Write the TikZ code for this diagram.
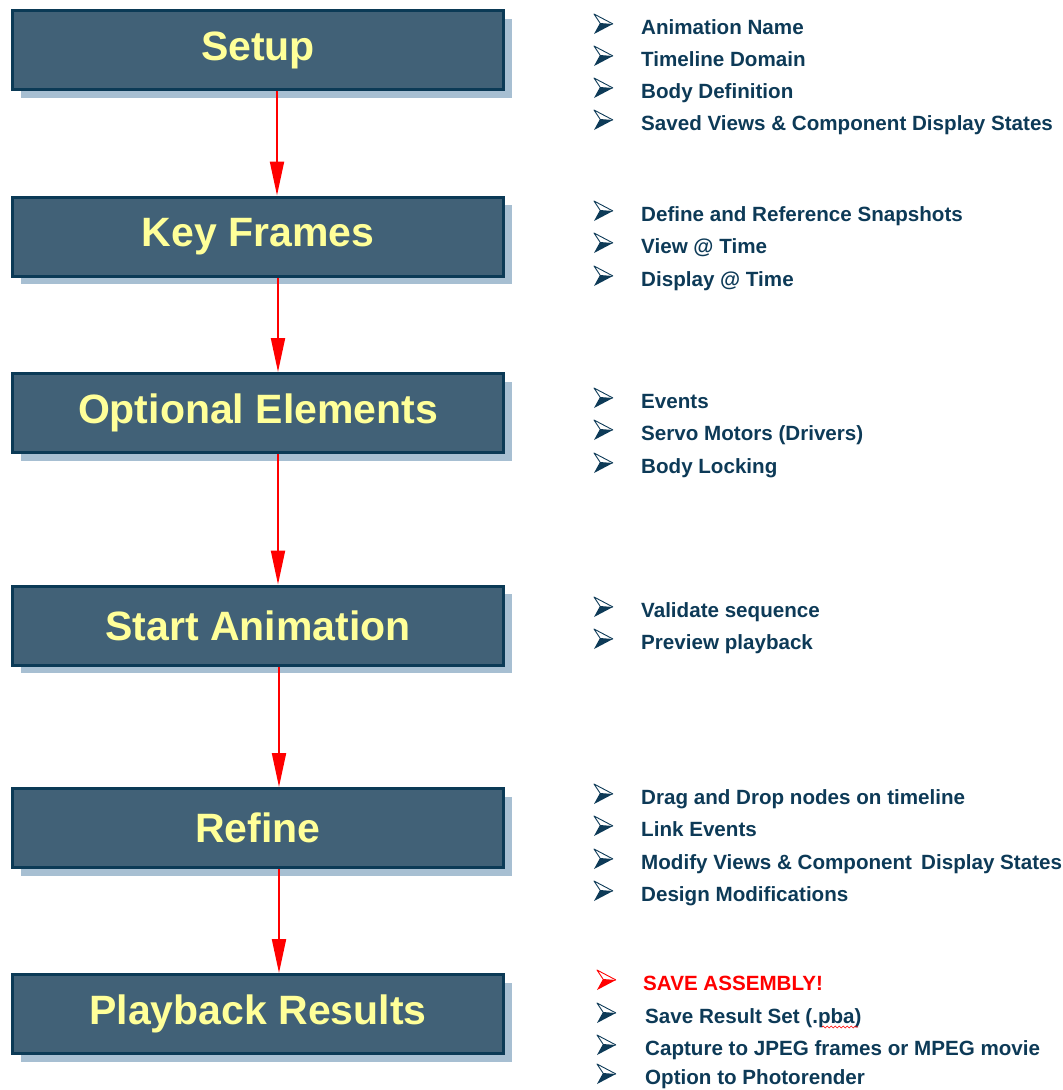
\documentclass[tikz,border=0pt]{standalone}
\usepackage{fontspec}
\setmainfont{Liberation Sans}
\usetikzlibrary{shadows,arrows.meta,decorations.pathmorphing}
\definecolor{boxfill}{HTML}{416177}
\definecolor{boxline}{HTML}{0B3A56}
\definecolor{shadowc}{HTML}{A7BFD2}
\definecolor{labelc}{HTML}{FFFF99}
\definecolor{navy}{HTML}{0D3A57}
\newcommand\pitem[6][navy]{%
  \node[bulletbox] (#2b) at (#3,#5) {};
  \fill[#1] ([xshift=6pt,yshift=1pt]#2b.west) -- (#2b.east) -- (#2b.south west) -- cycle;
  \draw[#1, line width=0.9pt, line join=round] ([xshift=6pt,yshift=1pt]#2b.west) -- (#2b.north west) -- (#2b.east);
  \node[itemtext,text=#1] (#2) at (#4,#5) {#6};}
\begin{document}
\begin{tikzpicture}[x=1pt,y=-1pt,
  stage/.style={draw=boxline, line width=3pt, fill=boxfill,
    minimum width=491pt, minimum height=79pt, inner sep=0pt,
    text=labelc, font=\bfseries\fontsize{41}{48}\selectfont,
    drop shadow={shadow xshift=8pt, shadow yshift=-8pt, fill=shadowc, opacity=1}},
  flow/.style={red, line width=2pt, -{Triangle[length=34pt,width=14pt]}},
  bulletbox/.style={anchor=south west, inner sep=0pt, outer sep=0pt, minimum width=19pt, minimum height=20pt},
  itemtext/.style={anchor=base west, inner sep=0pt, font=\bfseries\fontsize{20.6}{24}\selectfont}]
\useasboundingbox (0,0) rectangle (1063,1090);

\node[stage] (b1) at (258,50) {Setup};
\node[stage] (b2) at (258,236.5) {Key Frames};
\node[stage] (b3) at (258,413) {Optional Elements};
\node[stage] (b4) at (258,625.5) {Start Animation};
\node[stage] (b5) at (258,828) {Refine};
\node[stage] (b6) at (258,1014) {Playback Results};

\draw[flow] ([xshift=19pt]b1.south) -- ([xshift=19pt]b2.north);
\draw[flow] ([xshift=20pt]b2.south) -- ([xshift=20pt]b3.north);
\draw[flow] ([xshift=20pt]b3.south) -- ([xshift=20pt]b4.north);
\draw[flow] ([xshift=21pt]b4.south) -- ([xshift=21pt]b5.north);
\draw[flow] ([xshift=21pt]b5.south) -- ([xshift=21pt]b6.north);

\pitem{a1}{594}{641}{34}{Animation Name}
\pitem{a2}{594}{641}{66}{Timeline Domain}
\pitem{a3}{594}{641}{98}{Body Definition}
\pitem{a4}{594}{641}{130}{Saved Views \& Component Display States}

\pitem{k1}{594}{641}{221}{Define and Reference Snapshots}
\pitem{k2}{594}{641}{253}{View @ Time}
\pitem{k3}{594}{641}{286}{Display @ Time}

\pitem{o1}{594}{641}{408}{Events}
\pitem{o2}{594}{641}{440}{Servo Motors (Drivers)}
\pitem{o3}{594}{641}{473}{Body Locking}

\pitem{s1}{594}{641}{617}{Validate sequence}
\pitem{s2}{594}{641}{649}{Preview playback}

\pitem{r1}{594}{641}{804}{Drag and Drop nodes on timeline}
\pitem{r2}{594}{641}{836}{Link Events}
\pitem{r3}{594}{641}{869}{Modify Views \& Component\, Display States}
\pitem{r4}{594}{641}{901}{Design Modifications}

\pitem[red]{p1}{597}{643}{990}{SAVE ASSEMBLY!}
\pitem{p2}{597}{645}{1023}{Save Result Set (.pba)}
\pitem{p3}{597}{645}{1055}{Capture to JPEG frames or MPEG movie}
\pitem{p4}{597}{645}{1084}{Option to Photorender}

\draw[red, line width=0.6pt, decorate, decoration={snake, amplitude=1pt, segment length=4pt}]
  (822,1027) -- (858,1027);
\end{tikzpicture}
\end{document}
